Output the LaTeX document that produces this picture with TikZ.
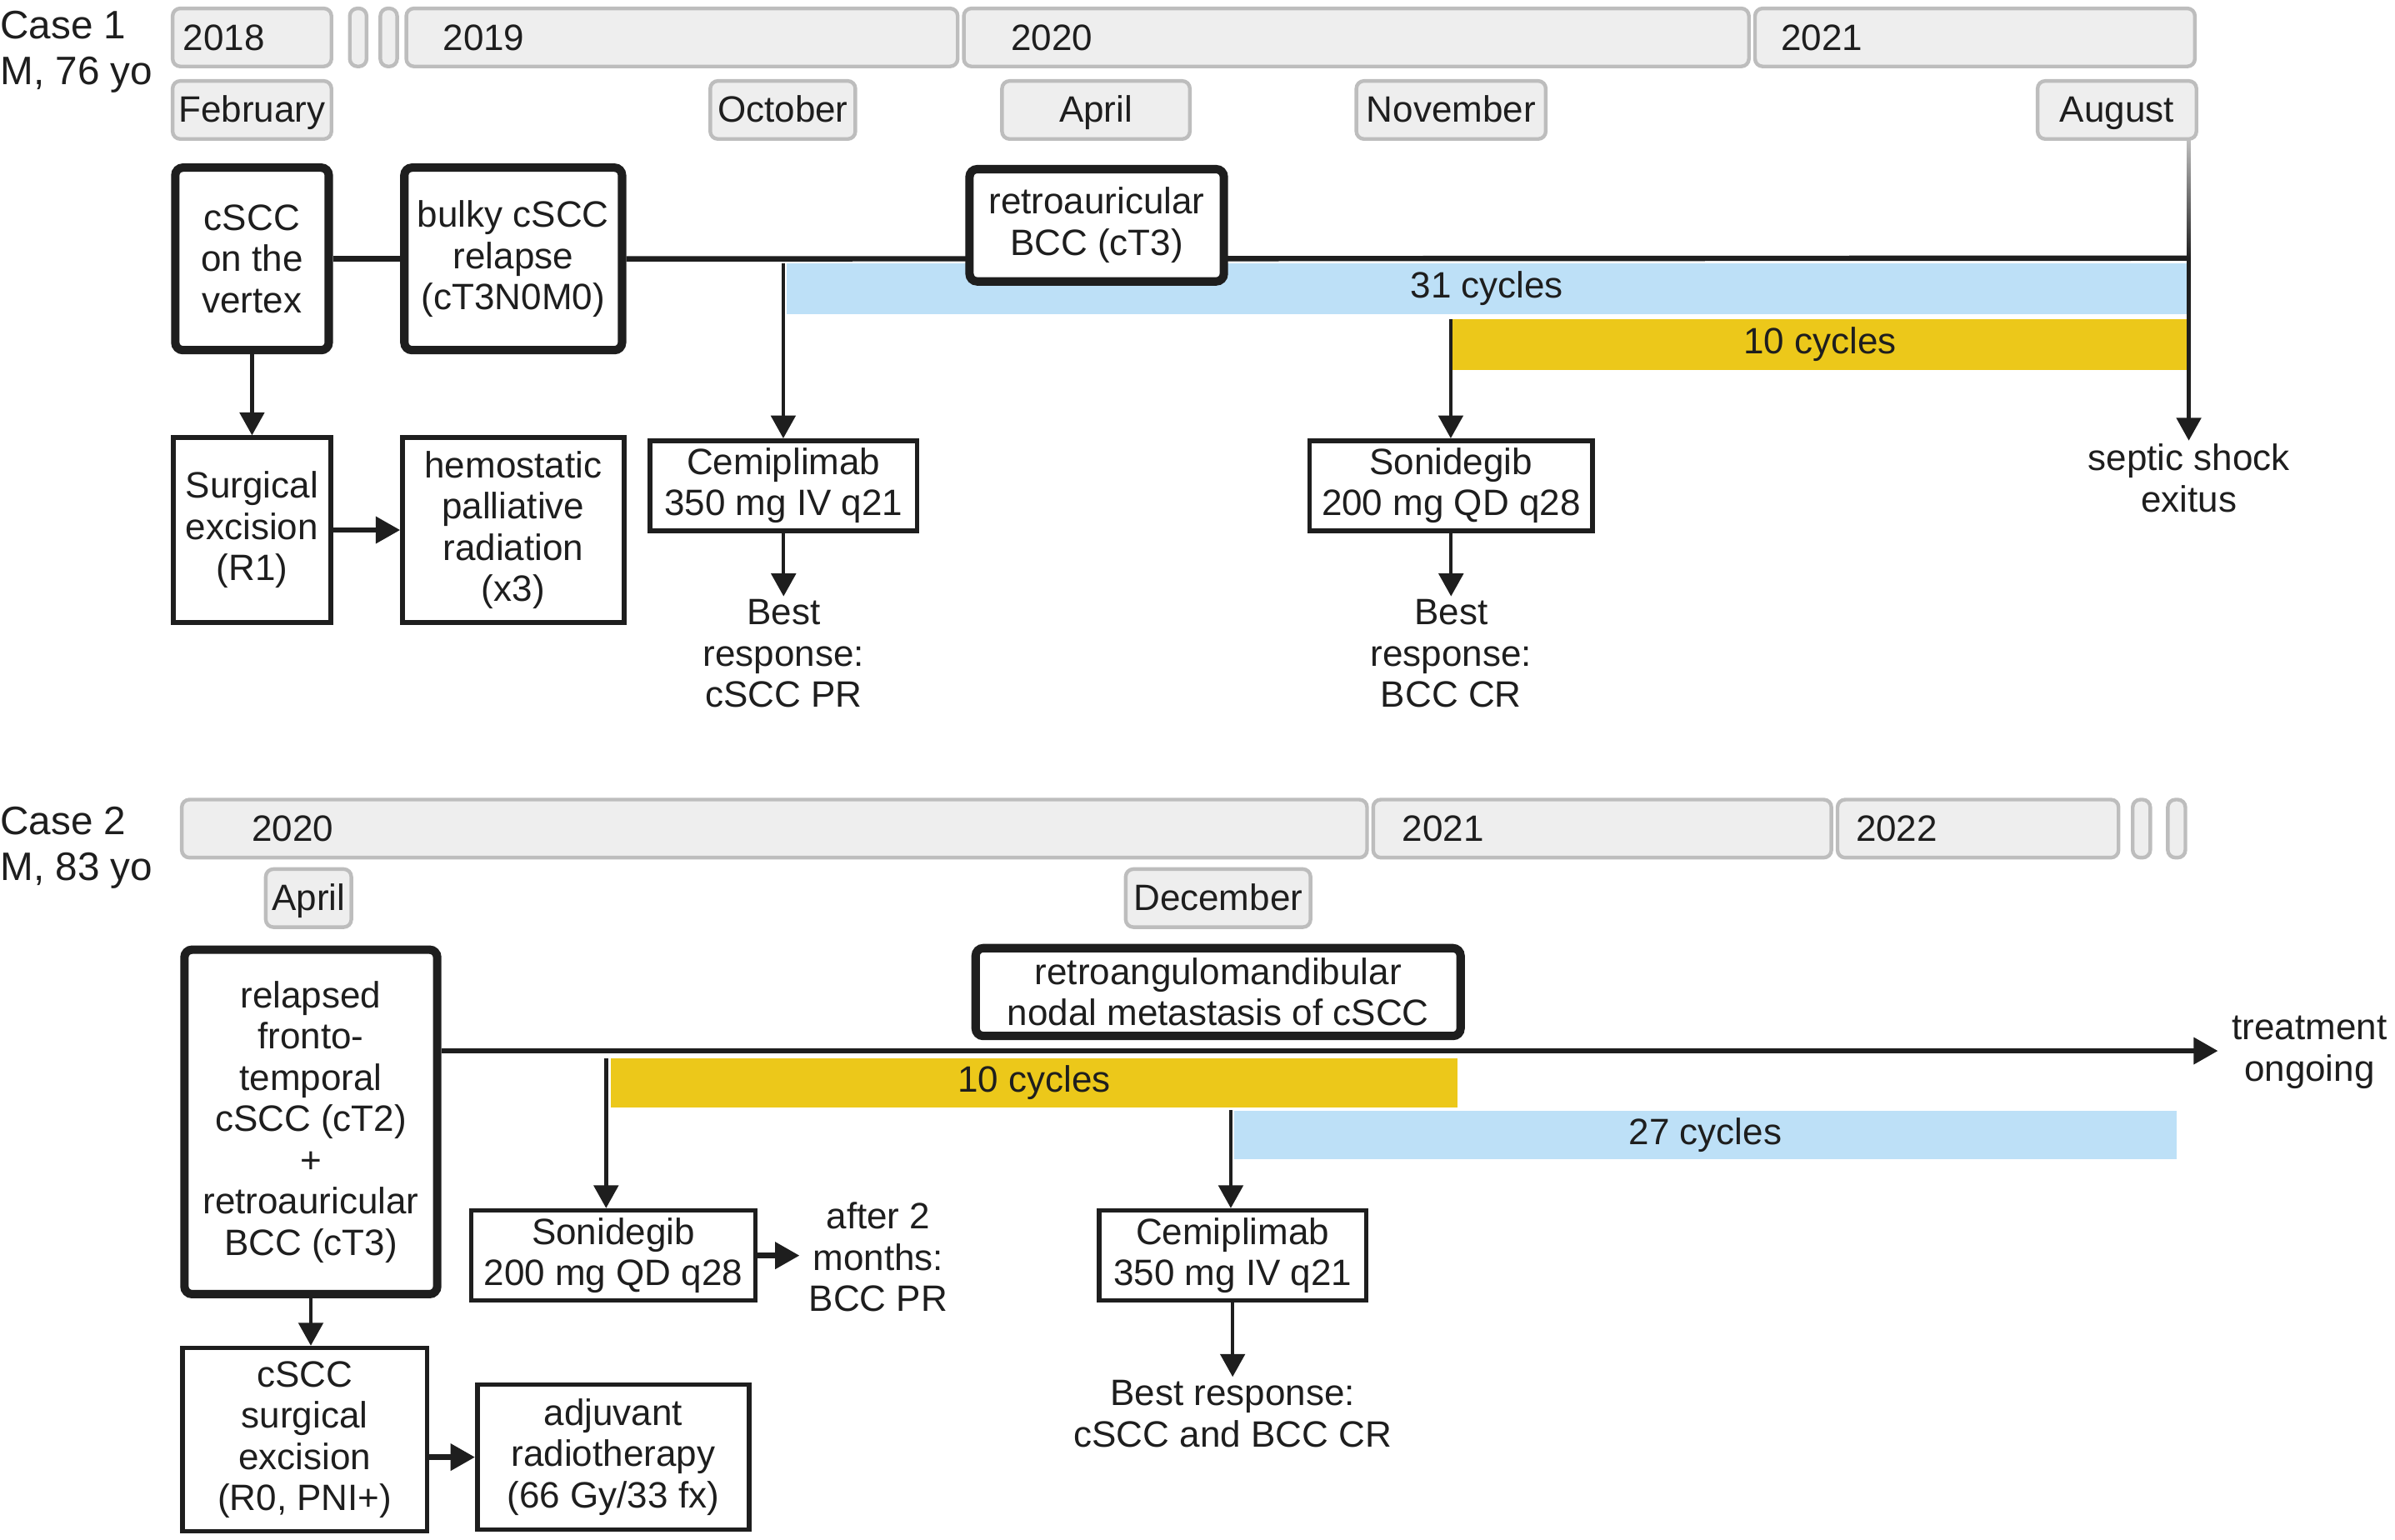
\documentclass[tikz,border=0pt]{standalone}
\usepackage{fontspec}
\setmainfont{Liberation Sans}
\usepackage{tikz}
\usetikzlibrary{arrows.meta}
\usepackage{xcolor}
\definecolor{barfill}{HTML}{EEEEEE}
\definecolor{barline}{HTML}{BDBDBD}
\definecolor{cemiblue}{HTML}{BDE0F7}
\definecolor{soniyellow}{HTML}{ECC81A}
\definecolor{ink}{HTML}{1E1E1E}

\begin{document}
\begin{tikzpicture}[x=1pt, y=-1pt,
    every node/.style={font=\fontsize{24}{27}\selectfont, text=ink, align=center, inner sep=2},
    yearbar/.style={draw=barline, fill=barfill, line width=2.4, rounded corners=5, minimum height=38, inner sep=0},
    month/.style={yearbar, text height=19, text depth=3},
    event/.style={draw=ink, fill=white, line width=5.5, rounded corners=5, inner sep=0},
    therapy/.style={draw=ink, fill=white, line width=3, inner sep=0},
    cycles/.style={inner sep=0, minimum height=33},
    casetext/.style={anchor=west, align=left, font=\fontsize{26}{30.5}\selectfont},
    mainline/.style={draw=ink, line width=3.5},
    conn/.style={draw=ink, line width=2.4, -{Triangle[length=15pt,width=16pt]}},
    fatarrow/.style={draw=ink, line width=3.5, -{Triangle[length=16pt,width=17pt]}}]
    \useasboundingbox (0,0) rectangle (1568,1008);

    % Case 1
    \node[casetext] (case1) at (-2,34) {Case 1\\M, 76 yo};
    % years
    \node[yearbar, minimum width=104] (y2018) at (165,24.5) {};
    \node[yearbar, minimum width=11] (gap1a) at (234.5,24.5) {};
    \node[yearbar, minimum width=11] (gap1b) at (254.5,24.5) {};
    \node[yearbar, minimum width=361] (y2019) at (446.5,24.5) {};
    \node[yearbar, minimum width=514] (y2020) at (888,24.5) {};
    \node[yearbar, minimum width=288] (y2021) at (1293,24.5) {};
    \node[anchor=west] (t2018) at ([xshift=6]y2018.west) {2018};
    \node[anchor=west] (t2019) at ([xshift=23]y2019.west) {2019};
    \node[anchor=west] (t2020) at ([xshift=30]y2020.west) {2020};
    \node[anchor=west] (t2021) at ([xshift=16]y2021.west) {2021};
    % months
    \node[month, minimum width=104] (feb) at (165,72) {February};
    \node[month, minimum width=95] (oct) at (512.5,72) {October};
    \node[month, minimum width=123] (apr) at (717.5,72) {April};
    \node[month, minimum width=124] (nov) at (950,72) {November};
    \node[month, minimum width=104] (aug) at (1386,72) {August};

    % Events
    \node[event, minimum width=100.5, minimum height=119.5] (vertex) at (165,169.5) {cSCC\\on the\\vertex};
    \node[event, minimum width=142.5, minimum height=119.5] (bulky) at (336,169.5) {bulky cSCC\\relapse\\(cT3N0M0)};
    \node[cycles, fill=cemiblue, minimum width=917] (blue1) at (973.5,189) {31 cycles};
    \node[cycles, fill=soniyellow, minimum width=481] (yel1) at (1191.5,225.5) {10 cycles};
    \coordinate (end1) at (1433,169);
    \coordinate (augfoot) at (end1 |- aug.south);
    \draw[mainline] (vertex) -- (bulky);
    \draw[mainline] (bulky.east) -- (end1);
    \shade[top color=barline, bottom color=ink] ([xshift=-1.2]augfoot) rectangle ([xshift=1.2]end1);
    \node[event, minimum width=166.5, minimum height=73.5] (retro1) at (718,147.5) {retroauricular\\BCC (cT3)};

    % Treatments
    \node[therapy, minimum width=103, minimum height=121] (surg1) at (165,347) {Surgical\\excision\\(R1)};
    \node[therapy, minimum width=145, minimum height=121] (hemo) at (336,347) {hemostatic\\palliative\\radiation\\(x3)};
    \node[therapy, minimum width=175, minimum height=59] (cemi1) at (513,318) {Cemiplimab\\350 mg IV q21};
    \node[therapy, minimum width=185, minimum height=59] (soni1) at (950,318) {Sonidegib\\200 mg QD q28};
    \node (resp1) at (513,428) {Best\\response:\\cSCC PR};
    \node (resp2) at (950,428) {Best\\response:\\BCC CR};
    \node (septic) at (1433,313) {septic shock\\exitus};

    % Arrows
    \draw[conn] (vertex.south) -- (surg1.north);
    \draw[fatarrow] (surg1.east) -- (hemo.west);
    \draw[conn] ([xshift=-2]blue1.north west) -- ([xshift=-2]blue1.north west |- cemi1.north);
    \draw[conn] ([xshift=-1]yel1.north west) -- ([xshift=-1]yel1.north west |- soni1.north);
    \draw[conn] (cemi1.south) -- (resp1.north);
    \draw[conn] (soni1.south) -- (resp2.north);
    \draw[conn] (end1) -- (septic.north);

    % Case 2
    \node[casetext] (case2) at (-2,555) {Case 2\\M, 83 yo};
    % years
    \node[yearbar, minimum width=776] (z2020) at (507,542.5) {};
    \node[yearbar, minimum width=300] (z2021) at (1049,542.5) {};
    \node[yearbar, minimum width=184] (z2022) at (1295,542.5) {};
    \node[yearbar, minimum width=11.5] (gap2a) at (1402,542.5) {};
    \node[yearbar, minimum width=11.5] (gap2b) at (1425,542.5) {};
    \node[anchor=west] (s2020) at ([xshift=45]z2020.west) {2020};
    \node[anchor=west] (s2021) at ([xshift=18]z2021.west) {2021};
    \node[anchor=west] (s2022) at ([xshift=11]z2022.west) {2022};
    % months
    \node[month, minimum width=56] (apr2) at (202,588) {April};
    \node[month, minimum width=121] (dec) at (797.5,588) {December};

    % Events
    \node[event, minimum width=165.5, minimum height=225.5] (relapse) at (203.5,734.5)
        {relapsed\\fronto-\\temporal\\cSCC (cT2)\\+\\retroauricular\\BCC (cT3)};
    \node[event, minimum width=317.5, minimum height=57.5] (nodal) at (797.5,649.5)
        {retroangulomandibular\\nodal metastasis of cSCC};
    \node (ongoing) at (1512,689) {treatment\\ongoing};
    \node[cycles, fill=soniyellow, minimum width=554, minimum height=32] (yel2) at (677,709) {10 cycles};
    \node[cycles, fill=cemiblue, minimum width=617, minimum height=32] (blue2) at (1116.5,743) {27 cycles};

    % Treatments
    \node[therapy, minimum width=186, minimum height=59] (soni2) at (401.5,822) {Sonidegib\\200 mg QD q28};
    \node[therapy, minimum width=175, minimum height=59] (cemi2) at (807,822) {Cemiplimab\\350 mg IV q21};
    \node (after2) at (575,823) {after 2\\months:\\BCC PR};
    \node (resp3) at (807,925.5) {Best response:\\cSCC and BCC CR};
    \node[therapy, minimum width=160, minimum height=120] (surg2) at (199.5,942.5) {cSCC\\surgical\\excision\\(R0, PNI+)};
    \node[therapy, minimum width=178, minimum height=95] (adj) at (401.5,954) {adjuvant\\radiotherapy\\(66 Gy/33 fx)};

    % Arrows
    \draw[fatarrow, shorten >=7] (relapse.east |- 0,688) -- (ongoing.west |- 0,688);
    \draw[conn] ([xshift=-3]yel2.north west) -- ([xshift=-3]yel2.north west |- soni2.north);
    \draw[conn] ([xshift=-2]blue2.north west) -- ([xshift=-2]blue2.north west |- cemi2.north);
    \draw[fatarrow, shorten >=4] (soni2.east) -- (after2.west |- soni2.east);
    \draw[conn] (cemi2.south) -- (resp3.north);
    \draw[conn] (relapse.south) -- (relapse.south |- surg2.north);
    \draw[fatarrow] (surg2.east |- adj.west) -- (adj.west);
\end{tikzpicture}
\end{document}
